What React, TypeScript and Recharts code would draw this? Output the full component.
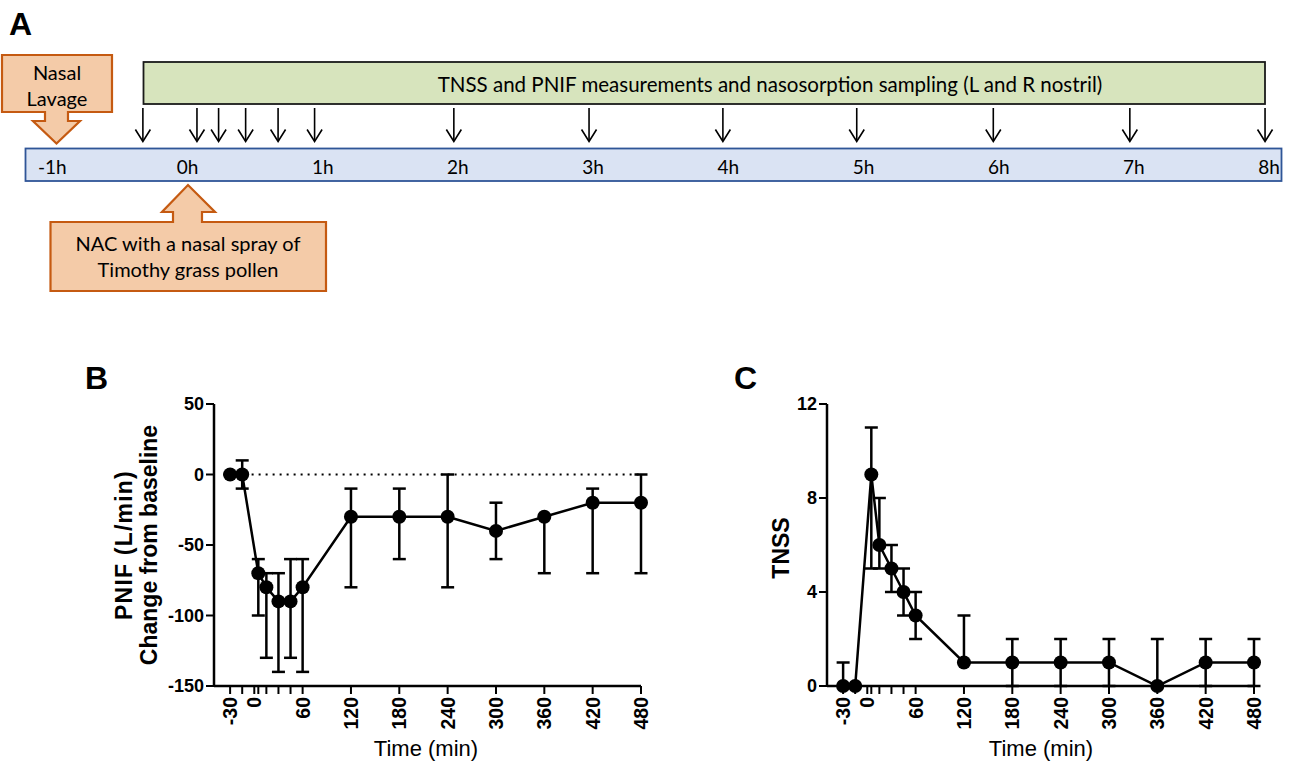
import React from "react";
import { LineChart, Line, XAxis, YAxis, ErrorBar, ReferenceLine } from "recharts";

// time points (min) and medians with lower / upper quartiles
const timeMin = [-30, -15, 5, 15, 30, 45, 60, 120, 180, 240, 300, 360, 420, 480];
const pnifMedian = [0, 0, -70, -80, -90, -90, -80, -30, -30, -30, -40, -30, -20, -20];
const pnifLow = [0, -10, -100, -130, -140, -130, -140, -80, -60, -80, -60, -70, -70, -70];
const pnifHigh = [0, 10, -60, -70, -70, -60, -60, -10, -10, 0, -20, -30, -10, 0];
const tnssMedian = [0, 0, 9, 6, 5, 4, 3, 1, 1, 1, 1, 0, 1, 1];
const tnssLow = [0, 0, 5, 5, 4, 3, 2, 1, 0, 0, 0, 0, 0, 0];
const tnssHigh = [1, 0, 11, 8, 6, 5, 4, 3, 2, 2, 2, 2, 2, 2];

const xTicks = [-30, -15, 0, 5, 15, 30, 45, 60, 120, 180, 240, 300, 360, 420, 480];
const xTickLabels = [-30, 0, 60, 120, 180, 240, 300, 360, 420, 480];
const pnifTicks = [-150, -100, -50, 0, 50];
const tnssTicks = [0, 4, 8, 12];

// panel A timeline (hours)
const hourLabels = [-1, 0, 1, 2, 3, 4, 5, 6, 7, 8];
const sampleHours = [-0.33, 0.07, 0.23, 0.43, 0.67, 0.94, 1.97, 2.97, 3.96, 4.95, 5.96, 6.97, 7.97];

const hx = (h: number) => 187.5 + 135.2 * h;

const rows = (med: number[], lo: number[], hi: number[]) =>
  timeMin.map((t, i) => ({ t, v: med[i], err: [med[i] - lo[i], hi[i] - med[i]] }));

const pnifData = rows(pnifMedian, pnifLow, pnifHigh);
const tnssData = rows(tnssMedian, tnssLow, tnssHigh);

const chartFont = '"Liberation Sans", Arial, sans-serif';
const diagramFont = 'Lato, "Open Sans", sans-serif';

const XTick = (props: any) => {
  const { x, y, payload } = props;
  if (!xTickLabels.includes(payload.value)) return null;
  return (
    <text
      x={x}
      y={y + 1}
      transform={`rotate(-90 ${x} ${y + 1})`}
      textAnchor="end"
      dominantBaseline="central"
      fontFamily={chartFont}
      fontWeight="bold"
      fontSize={19.5}
      fill="#000"
    >
      {payload.value}
    </text>
  );
};

const YTick = (props: any) => {
  const { x, y, payload } = props;
  return (
    <text
      x={x}
      y={y}
      textAnchor="end"
      dominantBaseline="central"
      fontFamily={chartFont}
      fontWeight="bold"
      fontSize={18}
      fill="#000"
    >
      {payload.value}
    </text>
  );
};

const axisLine = { stroke: "#000", strokeWidth: 2.5 };
const tickLine = { stroke: "#000", strokeWidth: 2 };

function Panel({ data, yDomain, yTicks, children }: any) {
  return (
    <LineChart
      width={700}
      height={403}
      data={data}
      margin={{ top: 44, right: 59, left: 150, bottom: 27 }}
    >
      <XAxis
        type="number"
        dataKey="t"
        domain={[-50, 480]}
        ticks={xTicks}
        interval={0}
        tick={<XTick />}
        tickSize={8}
        axisLine={axisLine}
        tickLine={tickLine}
        height={50}
      />
      <YAxis
        type="number"
        domain={yDomain}
        ticks={yTicks}
        interval={0}
        tick={<YTick />}
        tickSize={8}
        axisLine={axisLine}
        tickLine={tickLine}
        width={64}
      />
      {children}
      <Line
        dataKey="v"
        type="linear"
        stroke="#000"
        strokeWidth={2.5}
        dot={{ r: 7, fill: "#000", stroke: "#000", strokeWidth: 0 }}
        activeDot={false}
        isAnimationActive={false}
      >
        <ErrorBar dataKey="err" direction="y" width={6.5} stroke="#000" strokeWidth={2.5} isAnimationActive={false} />
      </Line>
    </LineChart>
  );
}

const abs = (left: number, top: number, extra: any = {}): any => ({
  position: "absolute",
  left,
  top,
  whiteSpace: "pre",
  ...extra,
});

export default function App() {
  return (
    <div style={{ position: "absolute", left: 0, top: 0, width: 1297, height: 763, background: "#fff", overflow: "hidden" }}>
      <svg width={1297} height={300} style={{ position: "absolute", left: 0, top: 0 }}>
        <text x={9} y={35} fontFamily={chartFont} fontWeight="bold" fontSize={32}>A</text>
        {/* nasal lavage callout */}
        <path
          d="M2,55 H112 V112 H68 V121 H80 L56.5,143.5 L33,121 H45 V112 H2 Z"
          fill="#F4CBA8"
          stroke="#C55A11"
          strokeWidth={2.2}
        />
        <text x={57} y={72} textAnchor="middle" dominantBaseline="central" fontFamily={diagramFont} fontSize={20}>Nasal</text>
        <text x={57} y={98} textAnchor="middle" dominantBaseline="central" fontFamily={diagramFont} fontSize={20}>Lavage</text>
        {/* measurement bar */}
        <rect x={143.5} y={62} width={1121.5} height={42} fill="#D7E4BD" stroke="#1a1a1a" strokeWidth={1.8} />
        <text x={770} y={84} textAnchor="middle" dominantBaseline="central" fontFamily={diagramFont} fontSize={20.5}>
          TNSS and PNIF measurements and nasosorption sampling (L and R nostril)
        </text>
        {sampleHours.map((h) => {
          const x = hx(h);
          return (
            <g key={h} stroke="#000" strokeWidth={1.6} fill="none">
              <line x1={x} y1={108} x2={x} y2={141} />
              <polyline points={`${x - 7.5},${129.5} ${x},${141.5} ${x + 7.5},${129.5}`} />
            </g>
          );
        })}
        {/* timeline */}
        <rect x={25.5} y={148.5} width={1256} height={32.5} fill="#DAE3F3" stroke="#2F5597" strokeWidth={1.8} />
        {hourLabels.map((h) => (
          <text key={h} x={hx(h)} y={166} textAnchor="middle" dominantBaseline="central" fontFamily={diagramFont} fontSize={19}>
            {h}h
          </text>
        ))}
        {/* NAC callout */}
        <path
          d="M50.5,222 H173 V212 H162 L188,185 L215,212 H202 V222 H326 V291 H50.5 Z"
          fill="#F4CBA8"
          stroke="#C55A11"
          strokeWidth={2.2}
        />
        <text x={188} y={243} textAnchor="middle" dominantBaseline="central" fontFamily={diagramFont} fontSize={20}>NAC with a nasal spray of</text>
        <text x={188} y={269} textAnchor="middle" dominantBaseline="central" fontFamily={diagramFont} fontSize={20}>Timothy grass pollen</text>
      </svg>

      <div style={abs(0, 360)}>
        <Panel data={pnifData} yDomain={[-150, 50]} yTicks={pnifTicks}>
          <ReferenceLine
            segment={[{ x: -12, y: 0 }, { x: 480, y: 0 }]}
            stroke="#000"
            strokeWidth={2}
            strokeDasharray="2 5"
          />
        </Panel>
      </div>
      <div style={abs(613, 360)}>
        <Panel data={tnssData} yDomain={[0, 12]} yTicks={tnssTicks} />
      </div>

      <div style={abs(85, 360, { font: `bold 32px ${chartFont}` })}>B</div>
      <div style={abs(734, 360, { font: `bold 32px ${chartFont}` })}>C</div>

      <div style={abs(137, 545, { font: `bold 23px ${chartFont}`, textAlign: "center", lineHeight: "25px", transform: "translate(-50%, -50%) rotate(-90deg)" })}>
        <span style={{ letterSpacing: 1.2 }}>PNIF (L/min)</span>
        <br />
        Change from baseline
      </div>
      <div style={abs(781, 548, { font: `bold 23px ${chartFont}`, transform: "translate(-50%, -50%) rotate(-90deg)" })}>
        TNSS
      </div>
      <div style={abs(426, 749, { font: `22px ${chartFont}`, transform: "translate(-50%, -50%)" })}>Time (min)</div>
      <div style={abs(1041, 749, { font: `22px ${chartFont}`, transform: "translate(-50%, -50%)" })}>Time (min)</div>
    </div>
  );
}
